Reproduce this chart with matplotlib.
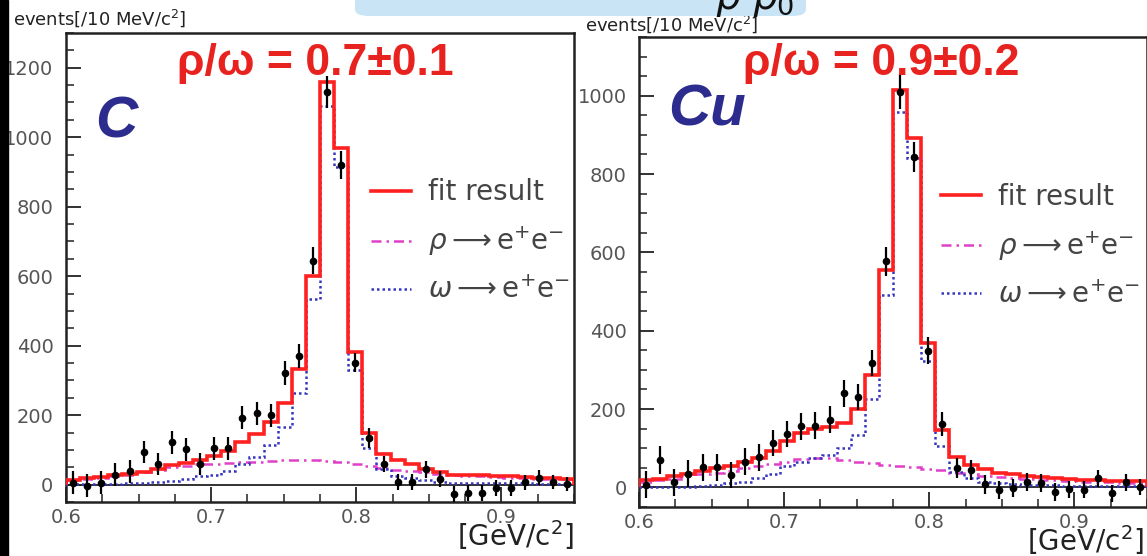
import numpy as np
import matplotlib
matplotlib.use("Agg")
import matplotlib.pyplot as plt
from matplotlib.patches import Rectangle, FancyBboxPatch
from matplotlib.ticker import MultipleLocator

# 36 bins between 0.60 and 0.95 GeV/c2
edges = np.linspace(0.6, 0.95, 37)
centers = 0.5 * (edges[1:] + edges[:-1])

# Carbon target
data_c = [5, -3, 5, 29, 38, 95, 59, 122, 102, 59, 105, 104, 192, 205, 199, 322, 370, 645,
          1130, 920, 351, 134, 59, 8, 8, 44, 15, -26, -25, -23, -10, -10, 7, 20, 8, 1]
err_c = [33, 33, 33, 33, 33, 32, 32, 33, 33, 32, 33, 33, 33, 33, 33, 34, 35, 38,
         45, 40, 27, 28, 24, 24, 24, 24, 23, 23, 23, 23, 22, 22, 22, 21, 21, 20]
fit_c = [14, 19, 23, 28, 32, 37, 46, 56, 62, 70, 82, 98, 122, 145, 180, 235, 333, 600,
         1160, 970, 383, 148, 88, 70, 58, 45, 35, 29, 28, 28, 26, 24, 22, 20, 18, 17]
rho_c = [12, 15, 19, 24, 29, 35, 42, 50, 54, 58, 60, 62, 64, 66, 68, 71, 71, 70,
         68, 64, 60, 55, 48, 42, 38, 35, 31, 28, 26, 24, 22, 20, 18, 17, 16, 15]
omega_c = [2, 2, 2, 3, 4, 5, 8, 10, 15, 25, 28, 38, 58, 80, 115, 165, 265, 534,
           1090, 914, 331, 105, 45, 25, 18, 12, 8, 6, 5, 5, 4, 4, 4, 3, 3, 3]

# Copper target
data_cu = [7, 71, 13, 35, 51, 51, 32, 66, 77, 113, 136, 156, 158, 173, 240, 231, 318, 577,
           1010, 843, 349, 162, 50, 45, 8, -7, -1, 15, 12, -12, -5, -6, 23, -15, 13, 1]
err_cu = [34, 36, 34, 34, 34, 34, 34, 34, 34, 34, 34, 34, 34, 34, 34, 34, 34, 38,
          45, 38, 34, 31, 26, 26, 24, 23, 23, 23, 23, 22, 22, 22, 22, 21, 21, 20]
fit_cu = [20, 22, 30, 35, 42, 50, 55, 65, 75, 92, 118, 140, 150, 155, 165, 200, 287, 555,
          1015, 892, 368, 146, 78, 57, 48, 37, 33, 30, 27, 25, 22, 20, 18, 17, 16, 16]
rho_cu = [15, 18, 22, 28, 33, 38, 43, 50, 55, 60, 66, 72, 75, 74, 70, 66, 62, 58,
          55, 52, 48, 44, 38, 34, 30, 26, 24, 22, 20, 18, 17, 15, 14, 13, 12, 11]
omega_cu = [1, 1, 1, 2, 3, 5, 12, 15, 25, 35, 55, 65, 75, 82, 100, 135, 225, 492,
            959, 841, 323, 106, 40, 25, 15, 10, 8, 6, 5, 5, 4, 4, 4, 3, 3, 3]

W, H = 1147, 556
fig = plt.figure(figsize=(W / 100, H / 100), dpi=100)
fig.patch.set_facecolor("white")

def px(x, y):
    return x / W, 1 - y / H

def panel(box, data, err, fit, rho, omega, ylim, ratio, target, rpos, tpos, legpos, unit_x):
    ax = fig.add_axes(box)
    h_rho = ax.stairs(rho, edges, color="#e040c8", lw=1.8, ls=(0, (4, 2, 1, 2)), zorder=2)
    h_om = ax.stairs(omega, edges, color="#3535c0", lw=1.8, ls=(0, (1, 1.2)), zorder=3)
    h_fit = ax.stairs(fit, edges, color="#ff2020", lw=2.6, zorder=4)
    ax.axhline(0, color="#222222", lw=1.3, zorder=1)
    ax.errorbar(centers, data, yerr=err, fmt="o", color="black", ms=4.5, elinewidth=1.6, capsize=0, zorder=5)
    ax.set_xlim(0.6, 0.95)
    ax.set_ylim(*ylim)
    ax.xaxis.set_major_locator(MultipleLocator(0.1))
    ax.xaxis.set_minor_locator(MultipleLocator(0.025))
    ax.yaxis.set_major_locator(MultipleLocator(200))
    ax.yaxis.set_minor_locator(MultipleLocator(50))
    ax.xaxis.set_major_formatter(matplotlib.ticker.FormatStrFormatter("%.1f"))
    ax.tick_params(which="both", direction="in", top=False, right=False,
                   labelsize=14, labelcolor="#555555", color="#222222")
    ax.tick_params(which="major", length=11, width=1.3)
    ax.tick_params(axis="x", which="major", pad=4)
    ax.tick_params(axis="y", which="major", pad=9)
    ax.tick_params(which="minor", length=6, width=1.1)
    for s in ax.spines.values():
        s.set_linewidth(1.8)
        s.set_color("#222222")
    ax.legend([h_fit, h_rho, h_om],
              ["fit result", r"$\rho\longrightarrow\mathrm{e}^{+}\mathrm{e}^{-}$",
               r"$\omega\longrightarrow\mathrm{e}^{+}\mathrm{e}^{-}$"],
              loc="upper left", bbox_to_anchor=legpos, frameon=False, fontsize=20,
              handlelength=1.45, handletextpad=0.6, labelspacing=0.65, borderpad=0,
              borderaxespad=0, labelcolor="#444444")
    ax.text(unit_x, -0.035, r"[GeV/c$^2$]", transform=ax.transAxes, ha="right", va="top",
            fontsize=20, color="#222222")
    fig.text(*px(*rpos), ratio, ha="center", va="center", fontsize=32,
             fontweight="bold", color="#e8231f", family="Liberation Sans")
    fig.text(*px(*tpos), target, ha="left", va="center", fontsize=42, fontweight="bold",
             style="italic", color="#2c2c8e", family="Liberation Sans")
    return ax

panel([66 / W, 1 - 502 / H, 508 / W, 469 / H], data_c, err_c, fit_c, rho_c, omega_c,
      (-50, 1300), "ρ/ω = 0.7±0.1", "C", (315, 63), (95, 122), (0.6, 0.69), 1.0)
panel([639 / W, 1 - 507 / H, 508 / W, 470 / H], data_cu, err_cu, fit_cu, rho_cu, omega_cu,
      (-50, 1150), "ρ/ω = 0.9±0.2", "Cu", (881, 63), (668, 110), (0.594, 0.69), 0.993)

fig.text(*px(13, 18), r"events[/10 MeV/c$^2$]", ha="left", va="center", fontsize=13, color="#222222")
fig.text(*px(585, 24), r"events[/10 MeV/c$^2$]", ha="left", va="center", fontsize=13, color="#222222")

# black strip on the left and the light blue header tab
fig.patches.append(Rectangle((0, 0), 8 / W, 1, transform=fig.transFigure, color="black", zorder=10))
tab = FancyBboxPatch((355 / W, 1 - 16 / H), 451 / W, 40 / H, boxstyle="round,pad=0,rounding_size=0.012",
                     transform=fig.transFigure, facecolor="#c9e4f5", edgecolor="none", zorder=9)
fig.patches.append(tab)
t = fig.text(*px(755, 0), r"$\rho\ \rho_0$", ha="center", va="center", fontsize=28, color="#111111", zorder=11)
t.set_clip_path(tab)

fig.savefig("out.png", dpi=100)
